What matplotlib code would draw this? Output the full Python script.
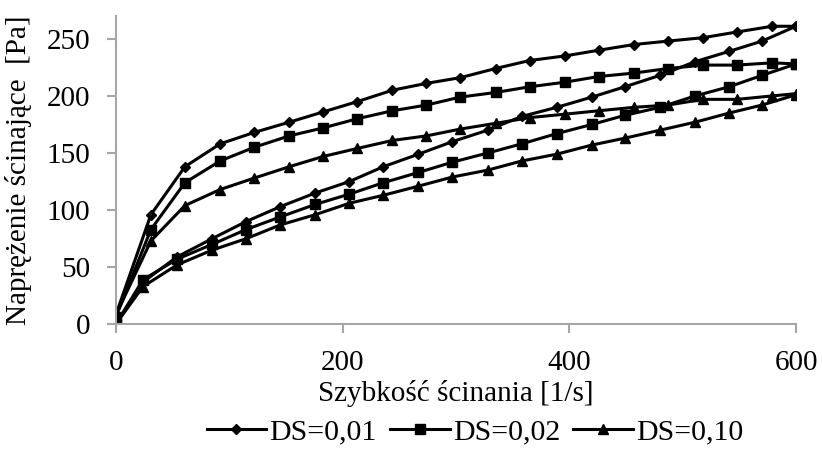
import matplotlib.pyplot as plt

# shear rate [1/s]: rising branch, then falling branch
shear_up = [0, 24, 54, 85, 115, 145, 176, 206, 236, 267, 297, 328, 358, 389, 420, 449, 480, 511, 541, 570, 600]
shear_down = [600, 579, 548, 518, 487, 457, 426, 396, 365, 335, 304, 274, 244, 213, 183, 153, 122, 92, 61, 31, 0]

# shear stress [Pa]
ds001_up = [0, 37, 59, 75, 90, 103, 115, 125, 138, 149, 160, 170, 182, 190, 199, 208, 218, 230, 239, 248, 261]
ds001_down = [261, 261, 256, 251, 248, 245, 240, 235, 231, 224, 216, 211, 205, 195, 186, 177, 168, 158, 138, 96, 8]
ds002_up = [0, 39, 57, 70, 83, 94, 105, 114, 124, 133, 142, 150, 158, 167, 175, 183, 190, 200, 208, 218, 228]
ds002_down = [228, 229, 227, 227, 224, 220, 217, 212, 208, 203, 199, 192, 187, 180, 172, 165, 155, 143, 124, 83, 6]
ds010_up = [0, 33, 52, 65, 75, 87, 96, 106, 113, 121, 129, 135, 143, 149, 157, 163, 170, 177, 185, 192, 201]
ds010_down = [202, 200, 197, 197, 192, 190, 187, 184, 181, 176, 171, 165, 161, 154, 147, 138, 128, 118, 104, 73, 8]

series = [
    ("DS=0,01", ds001_up + ds001_down, "D", 5.5),
    ("DS=0,02", ds002_up + ds002_down, "s", 7),
    ("DS=0,10", ds010_up + ds010_down, "^", 7),
]
shear = shear_up + shear_down

plt.rcParams['font.family'] = ['Liberation Serif', 'DejaVu Serif']
plt.rcParams['font.size'] = 21

fig = plt.figure(figsize=(8.22, 4.49), dpi=100)
ax = fig.add_axes([0.1408, 0.2777, 0.8276, 0.6867])

for label, stress, marker, ms in series:
    ax.plot(shear, stress, color='black', lw=2.2, marker=marker, markersize=ms,
            markerfacecolor='black', markeredgecolor='black', label=label)

ax.set_xlim(0, 600)
ax.set_ylim(0, 270)
ax.set_xticks([0, 200, 400, 600])
ax.set_yticks([0, 50, 100, 150, 200, 250])

for side in ['top', 'right']:
    ax.spines[side].set_visible(False)
for side in ['left', 'bottom']:
    ax.spines[side].set_color('#a6a6a6')
    ax.spines[side].set_linewidth(1.5)
ax.tick_params(direction='out', length=6.5, width=1.5, color='#a6a6a6', labelsize=21, pad=12)

ax.set_xlabel('Szybkość ścinania [1/s]', fontsize=21, labelpad=3)
ax.set_ylabel('Naprężenie ścinające  [Pa]', fontsize=21, labelpad=10)

fig.legend(*ax.get_legend_handles_labels(), loc='center', bbox_to_anchor=(475 / 822, 17 / 449),
           ncol=3, frameon=False, fontsize=21.5, handlelength=2.0, handletextpad=0.1,
           columnspacing=0.45, borderaxespad=0, borderpad=0)

fig.savefig('out.png', dpi=100)
